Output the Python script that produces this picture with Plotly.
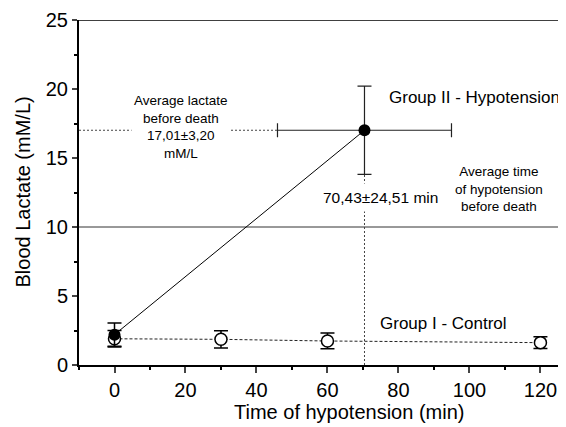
import plotly.graph_objects as go

# ---- data ----
control_time = [0, 30, 60, 120]
control_lactate = [1.9, 1.86, 1.74, 1.62]
control_sd = [0.6, 0.62, 0.57, 0.42]

hypo_time = [0, 70.43]
hypo_lactate = [2.2, 17.01]
hypo_lactate_sd = [0.85, 3.20]
hypo_time_sd = [0, 24.51]

reference_level = 10
x_ticks = [0, 20, 40, 60, 80, 100, 120]
y_ticks = [0, 5, 10, 15, 20, 25]
x_range = [-10, 127.2]
y_range = [0, 25]

FONT = "Arial, Liberation Sans, sans-serif"

fig = go.Figure()

# reference horizontal line at 10
fig.add_trace(go.Scatter(x=x_range, y=[reference_level, reference_level], mode="lines",
                         line=dict(color="#333333", width=1), hoverinfo="skip", showlegend=False))

# dotted guide lines to the death point
fig.add_trace(go.Scatter(x=[x_range[0], hypo_time[1] - hypo_time_sd[1]],
                         y=[hypo_lactate[1], hypo_lactate[1]], mode="lines",
                         line=dict(color="#444444", width=1, dash="2px,2px"),
                         hoverinfo="skip", showlegend=False))
fig.add_trace(go.Scatter(x=[hypo_time[1], hypo_time[1]],
                         y=[0, hypo_lactate[1] - hypo_lactate_sd[1]], mode="lines",
                         line=dict(color="#444444", width=1, dash="2px,2px"),
                         hoverinfo="skip", showlegend=False))

# Group I control
fig.add_trace(go.Scatter(x=control_time, y=control_lactate, mode="lines+markers",
                         line=dict(color="#222222", width=1, dash="3px,2px"),
                         marker=dict(symbol="circle", size=12, color="white",
                                     line=dict(color="black", width=1.5)),
                         error_y=dict(type="data", array=control_sd, color="black",
                                      thickness=1.5, width=7),
                         showlegend=False))

# Group II hypotension line
fig.add_trace(go.Scatter(x=hypo_time, y=hypo_lactate, mode="lines",
                         line=dict(color="black", width=1), showlegend=False))
# baseline point
fig.add_trace(go.Scatter(x=hypo_time[:1], y=hypo_lactate[:1], mode="markers",
                         marker=dict(symbol="circle", size=12, color="black"),
                         error_y=dict(type="data", array=hypo_lactate_sd[:1], color="black",
                                      thickness=1.5, width=7),
                         showlegend=False))
# death point
fig.add_trace(go.Scatter(x=hypo_time[1:], y=hypo_lactate[1:], mode="markers",
                         marker=dict(symbol="circle", size=12, color="black"),
                         error_y=dict(type="data", array=hypo_lactate_sd[1:], color="#222222",
                                      thickness=1.2, width=7),
                         error_x=dict(type="data", array=hypo_time_sd[1:], color="#222222",
                                      thickness=1.2, width=7),
                         showlegend=False))

fig.add_annotation(x=18.6, y=17.28, xref="x", yref="y",
                   text="Average lactate<br>before death<br>17,01±3,20<br>mM/L",
                   showarrow=False, font=dict(family=FONT, size=13.5, color="black"),
                   bgcolor="white", align="center", borderpad=2)
fig.add_annotation(x=101.4, y=19.35, xref="x", yref="y", text="Group II - Hypotension",
                   showarrow=False, font=dict(family=FONT, size=17, color="black"))
fig.add_annotation(x=75.0, y=12.17, xref="x", yref="y", text="70,43±24,51 min",
                   showarrow=False, font=dict(family=FONT, size=15.5, color="black"),
                   bgcolor="white", borderpad=5)
fig.add_annotation(x=108.2, y=12.75, xref="x", yref="y",
                   text="Average time<br>of hypotension<br>before death",
                   showarrow=False, font=dict(family=FONT, size=13.5, color="black"),
                   align="center")
fig.add_annotation(x=92.7, y=3.04, xref="x", yref="y", text="Group I - Control",
                   showarrow=False, font=dict(family=FONT, size=17, color="black"))

# axis titles
fig.add_annotation(x=0, y=0.5, xref="paper", yref="paper", xshift=-57,
                   text="Blood Lactate (mM/L)", textangle=-90, showarrow=False,
                   xanchor="center", yanchor="middle",
                   font=dict(family=FONT, size=20, color="black"))
fig.add_annotation(x=0.554, y=0, xref="paper", yref="paper", yshift=-47,
                   text="Time of hypotension (min)", showarrow=False,
                   xanchor="center", yanchor="middle",
                   font=dict(family=FONT, size=20, color="black"))

# top border line
fig.add_shape(type="line", xref="paper", yref="y", x0=0, x1=1, y0=y_range[1], y1=y_range[1],
              line=dict(color="black", width=1.5))

fig.update_layout(
    width=558, height=419,
    margin=dict(l=71, r=0, t=12, b=62),
    paper_bgcolor="white", plot_bgcolor="white",
    font=dict(family=FONT, color="black"),
    xaxis=dict(range=x_range, tickvals=x_ticks, ticks="outside", ticklen=6, tickwidth=2,
               showline=True, linewidth=2, linecolor="black", showgrid=False, zeroline=False,
               tickfont=dict(size=20, family=FONT, color="black"),
               minor=dict(dtick=10, tick0=0, ticks="outside", ticklen=3, tickwidth=2,
                          tickcolor="black")),
    yaxis=dict(range=y_range, tickvals=y_ticks, ticks="outside", ticklen=5, tickwidth=2,
               showline=True, linewidth=2, linecolor="black", showgrid=False, zeroline=False,
               tickfont=dict(size=20, family=FONT, color="black"),
               minor=dict(dtick=2.5, tick0=0, ticks="outside", ticklen=3, tickwidth=2,
                          tickcolor="black")),
)

fig.write_html("out.html")
